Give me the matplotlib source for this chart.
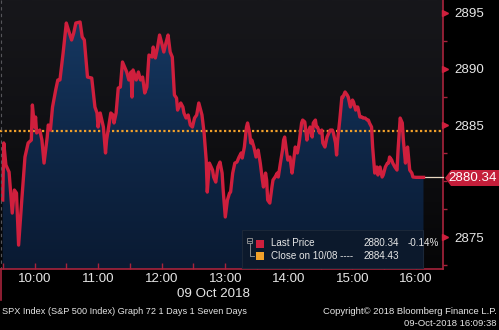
import numpy as np
import matplotlib
matplotlib.use("Agg")
import matplotlib.pyplot as plt
from matplotlib.patches import Rectangle, Polygon
from matplotlib.lines import Line2D
from matplotlib.colors import LinearSegmentedColormap
import matplotlib.transforms as mtransforms

# ---------------- data ----------------
# minutes after the 09:30 open
minutes = [0, 1, 3, 6, 9, 11, 13, 15, 18, 21, 24, 27, 28, 30, 31, 32, 35, 37, 39, 42,
           43, 45, 47, 50, 52, 54, 57, 60, 62, 65, 67, 69, 73, 75, 77, 80, 84, 87, 89, 90,
           92, 95, 97, 98, 102, 104, 105, 107, 109, 111, 113, 115, 117, 119, 121, 122, 123, 126, 128, 130,
           132, 134, 136, 138, 141, 142, 144, 146, 148, 150, 152, 154, 156, 158, 160, 162, 164, 165, 168, 170,
           171, 173, 175, 177, 179, 181, 183, 185, 188, 190, 192, 193, 195, 198, 199, 201, 203, 205, 207, 208,
           210, 212, 214, 215, 217, 219, 221, 223, 225, 226, 228, 230, 231, 233, 234, 235, 237, 239, 241, 243,
           245, 246, 248, 249, 250, 252, 254, 255, 257, 259, 260, 262, 264, 265, 266, 268, 269, 271, 273, 274,
           276, 278, 279, 280, 282, 283, 285, 287, 288, 290, 292, 293, 295, 296, 297, 299, 301, 302, 304, 306,
           309, 311, 312, 314, 315, 316, 318, 320, 321, 323, 325, 326, 328, 330, 331, 333, 334, 335, 337, 339,
           340, 342, 344, 345, 346, 348, 349, 351, 353, 354, 356, 358, 359, 361, 363, 364, 365, 367, 368, 370,
           372, 373, 375, 377, 378, 380, 381, 382, 384, 386, 387, 390, 397]
prices = [2878.32, 2883.40, 2881.44, 2880.81, 2877.16, 2879.21, 2878.94, 2874.31, 2878.32, 2882.15,
          2883.40, 2883.66, 2886.78, 2884.82, 2885.71, 2884.29, 2884.55, 2883.66, 2881.61, 2883.93,
          2885.00, 2884.55, 2886.60, 2888.12, 2889.01, 2889.01, 2891.41, 2894.08, 2893.46, 2892.57,
          2893.19, 2894.08, 2894.17, 2892.84, 2892.57, 2889.27, 2889.18, 2886.60, 2886.07, 2884.82,
          2886.07, 2884.82, 2882.51, 2883.66, 2886.07, 2885.89, 2885.18, 2886.07, 2888.29, 2888.38,
          2890.61, 2890.16, 2889.72, 2889.01, 2889.72, 2887.49, 2889.90, 2889.01, 2889.72, 2889.01,
          2889.27, 2887.85, 2888.38, 2891.23, 2891.05, 2891.94, 2890.97, 2891.86, 2893.01, 2892.30,
          2891.50, 2892.30, 2893.01, 2891.50, 2891.05, 2887.67, 2887.40, 2886.33, 2886.96, 2886.60,
          2886.07, 2885.62, 2885.89, 2885.00, 2884.82, 2885.62, 2885.89, 2886.96, 2885.89, 2884.29,
          2881.88, 2879.03, 2881.61, 2880.99, 2880.37, 2879.92, 2881.26, 2881.70, 2880.72, 2879.21,
          2876.81, 2878.32, 2878.94, 2879.03, 2880.72, 2881.61, 2881.70, 2882.15, 2882.51, 2882.06,
          2883.04, 2884.82, 2885.18, 2884.29, 2883.40, 2883.66, 2883.04, 2882.15, 2882.77, 2881.61,
          2880.10, 2879.48, 2880.72, 2880.10, 2878.32, 2878.05, 2879.48, 2880.10, 2880.37, 2880.72,
          2880.37, 2881.61, 2882.77, 2883.66, 2883.93, 2882.51, 2881.88, 2882.15, 2880.72, 2881.44,
          2883.04, 2882.51, 2883.04, 2883.66, 2885.18, 2885.44, 2885.27, 2883.66, 2884.29, 2884.82,
          2883.93, 2885.18, 2885.44, 2884.82, 2884.82, 2884.29, 2884.55, 2883.40, 2883.04, 2883.93,
          2884.55, 2884.55, 2884.29, 2883.40, 2882.33, 2883.66, 2885.44, 2887.49, 2887.49, 2887.94,
          2887.67, 2887.49, 2886.60, 2887.22, 2887.05, 2886.33, 2886.60, 2886.60, 2885.71, 2885.71,
          2885.62, 2885.62, 2885.44, 2885.44, 2885.18, 2884.82, 2883.04, 2880.72, 2881.26, 2880.55,
          2881.26, 2880.37, 2880.55, 2881.26, 2881.61, 2881.61, 2882.15, 2881.88, 2881.61, 2881.26,
          2880.99, 2882.77, 2885.62, 2885.18, 2883.66, 2881.61, 2882.77, 2883.04, 2880.99, 2880.72,
          2880.37, 2880.34, 2880.34]
prev_close = 2884.43
last_price = 2880.34
change_pct = "-0.14%"
hour_labels = ["10:00", "11:00", "12:00", "13:00", "14:00", "15:00", "16:00"]
hour_minutes = [30, 90, 150, 210, 270, 330, 390]
y_ticks = [2875, 2885, 2890, 2895]
y_tick_labels = ["2875", "2885", "2890", "2895"]

# ---------------- style ----------------
W, H = 499, 330
FONT = "Liberation Sans"
plt.rcParams["font.family"] = [FONT, "DejaVu Sans"]
RED = "#cf1f3d"
AXRED = "#a8233c"
ORANGE = "#f2a12a"
TXT = "#e6e6e6"

fig = plt.figure(figsize=(W / 100, H / 100), dpi=100, facecolor="black")


def fx(px):
    return px / W


def fy(py):
    return 1 - py / H


ax_l, ax_r, ax_t, ax_b = 0, 443, 0, 269
ax = fig.add_axes([fx(ax_l), fy(ax_b), fx(ax_r - ax_l), (ax_b - ax_t) / H])
ax.set_facecolor("black")
xmin, xmax = -2.55, 415.4
ymin, ymax = 2872.18, 2896.13
ax.set_xlim(xmin, xmax)
ax.set_ylim(ymin, ymax)

# background gradient
bg = LinearSegmentedColormap.from_list("bg", ["#060607", "#101013", "#17171b"])
grad = np.linspace(0, 1, 256).reshape(-1, 1)
ax.imshow(grad, cmap=bg, origin="lower", extent=[0, 1, 0, 1], transform=ax.transAxes,
          aspect="auto", zorder=0)

# area fill with gradient
fill = ax.fill_between(minutes, prices, ymin, facecolor="none", edgecolor="none", zorder=1)
fc = LinearSegmentedColormap.from_list("fc", ["#0a1a32", "#0f2849", "#173b66"])
im = ax.imshow(grad, cmap=fc, origin="lower", extent=[xmin, xmax, ymin, ymax],
               aspect="auto", zorder=1)
im.set_clip_path(fill.get_paths()[0], transform=ax.transData)

# previous close dotted line
ax.axhline(prev_close, color=ORANGE, lw=1.6, linestyle=(0, (1, 1.1)), zorder=3)

# price line
ax.plot(minutes, prices, color=RED, lw=2.4, solid_joinstyle="round", zorder=4)

# last price horizontal line to axis
ax.plot([minutes[-1], xmax], [last_price, last_price], color="#e8d8c0", lw=0.9, zorder=3,
        clip_on=False)

# spines
for s in ["top", "left"]:
    ax.spines[s].set_visible(False)
ax.spines["right"].set_color(AXRED)
ax.spines["bottom"].set_color(AXRED)
ax.spines["right"].set_linewidth(1.2)
ax.spines["bottom"].set_linewidth(1.2)

# x ticks
ax.set_xticks(hour_minutes)
ax.set_xticklabels(hour_labels)
ax.set_xticks(np.arange(0, 391, 30), minor=True)
ax.tick_params(axis="x", which="both", direction="in", color=AXRED, length=4, width=1,
               labelsize=9.6, labelcolor=TXT, pad=3)

# y ticks
ax.yaxis.tick_right()
ax.set_yticks(y_ticks)
ax.set_yticklabels(y_tick_labels)
ax.set_yticks(np.arange(2872.5, 2896, 2.5), minor=True)
ax.tick_params(axis="y", which="major", length=0, labelsize=9.6, labelcolor=TXT, pad=8)
ax.tick_params(axis="y", which="minor", direction="out", color=AXRED, length=3, width=1)

# triangular major tick marks
off = mtransforms.ScaledTranslation(2 / 100, 0, fig.dpi_scale_trans)
trans = mtransforms.blended_transform_factory(ax.transAxes, ax.transData) + off
ax.plot([1.0] * len(y_ticks), y_ticks, linestyle="none", marker=">", markersize=4.5,
        color=RED, transform=trans, clip_on=False, zorder=6)

# last price tag
tag = Polygon([[fx(445), fy(178)], [fx(451), fy(170)], [fx(499), fy(170)], [fx(499), fy(186)],
               [fx(451), fy(186)]], closed=True, transform=fig.transFigure,
              facecolor="#c41e3a", edgecolor="none", zorder=2)
fig.patches.append(tag)
fig.text(fx(473), fy(178), f"{last_price:.2f}", color="white", fontsize=9.6,
         ha="center", va="center", zorder=5)

# legend box
leg = Rectangle((fx(242), fy(268)), fx(423 - 242), (268 - 230) / H, transform=fig.transFigure,
                facecolor="#0c192c", edgecolor="#1b2738", lw=0.8, zorder=2)
fig.patches.append(leg)
# tree icon
fig.patches.append(Rectangle((fx(247), fy(243)), fx(5), 5 / H, transform=fig.transFigure,
                             facecolor="none", edgecolor="#9a9a9a", lw=0.6, zorder=3))
fig.lines.append(Line2D([fx(248), fx(251)], [fy(240.5), fy(240.5)], transform=fig.transFigure,
                        color="#9a9a9a", lw=0.6, zorder=3))
fig.lines.append(Line2D([fx(249.5), fx(249.5), fx(254)], [fy(243), fy(256), fy(256)],
                        transform=fig.transFigure, color="#9a9a9a", lw=0.6, zorder=3))
fig.patches.append(Rectangle((fx(256), fy(247.5)), fx(8), 8 / H, transform=fig.transFigure,
                             facecolor=RED, edgecolor="none", zorder=3))
fig.patches.append(Rectangle((fx(256), fy(260)), fx(8), 8 / H, transform=fig.transFigure,
                             facecolor=ORANGE, edgecolor="none", zorder=3))
lf = 7.1
fig.text(fx(271), fy(243.5), "Last Price", color=TXT, fontsize=lf, va="center", zorder=5)
fig.text(fx(271), fy(256), "Close on 10/08 ----", color=TXT, fontsize=lf, va="center", zorder=5)
fig.text(fx(363), fy(243.5), f"{last_price:.2f}", color=TXT, fontsize=lf, va="center", zorder=5)
fig.text(fx(363), fy(256), f"{prev_close:.2f}", color=TXT, fontsize=lf, va="center", zorder=5)
fig.text(fx(408), fy(243.5), change_pct, color=TXT, fontsize=lf, va="center", zorder=5)

# left edge lines
fig.lines.append(Line2D([fx(0.5), fx(0.5)], [fy(0), fy(269)], transform=fig.transFigure,
                        color="#55555a", lw=0.8, linestyle=(0, (3, 3)), zorder=3))
fig.lines.append(Line2D([fx(1), fx(1)], [fy(269), fy(300)], transform=fig.transFigure,
                        color=AXRED, lw=1.2, zorder=3))

# bottom texts
fig.text(fx(250), fy(294), "09 Oct 2018", color=TXT, fontsize=9.6, ha="right", va="center")
fig.text(fx(2), fy(311), "SPX Index (S&P 500 Index) Graph 72 1 Days 1 Seven Days", color=TXT,
         fontsize=6.6, ha="left", va="center")
fig.text(fx(497), fy(311), "Copyright\u00a9 2018 Bloomberg Finance L.P.", color=TXT,
         fontsize=6.8, ha="right", va="center")
fig.text(fx(497), fy(323), "09-Oct-2018 16:09:38", color=TXT, fontsize=6.8, ha="right",
         va="center")

fig.savefig("out.png", dpi=100, facecolor="black")
